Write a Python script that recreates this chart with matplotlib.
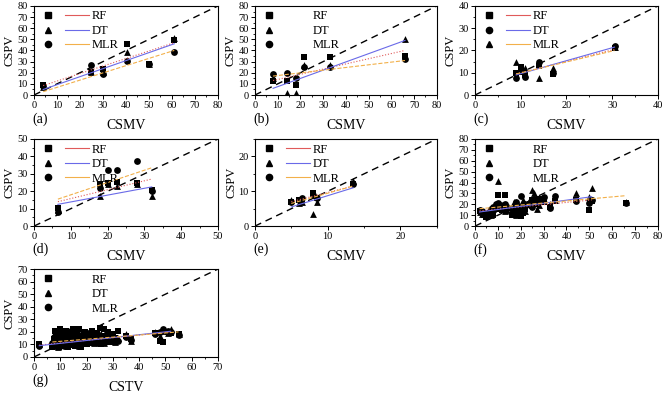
import matplotlib
matplotlib.use('Agg')
import matplotlib.pyplot as plt
import numpy as np
from matplotlib.lines import Line2D
from matplotlib.legend_handler import HandlerTuple
from matplotlib.ticker import MultipleLocator, AutoMinorLocator

plt.rcParams['font.family'] = ['Liberation Serif', 'DejaVu Serif']

models = ['RF', 'DT', 'MLR']

# panel (a)
a_x = [4, 25, 30, 40.5, 50, 61]
a_rf = [9, 21, 23, 46, 28, 49]
a_dt = [7, 21, 21, 39, 28, 51]
a_mlr = [8, 27, 19, 31, 28, 39]
a_fit = {'RF': (0.675, 5.8, 4, 61), 'DT': (0.72, 2.1, 4, 61), 'MLR': (0.65, 0.4, 4, 61)}

# panel (b)
b_x = [8, 14, 18, 21.5, 33, 66]
b_rf = [13, 13, 9, 34, 34, 35]
b_dt = [15, 2, 2, 27, 27, 50]
b_mlr = [19, 20, 15, 25, 25, 32]
b_fit = {'RF': (0.466, 9.3, 8, 66), 'DT': (0.741, 0.1, 8, 66), 'MLR': (0.241, 15.1, 8, 66)}

# panel (c)
c_x = [9, 10, 11, 14, 17, 30.5]
c_rf = [10, 12.5, 9, 13, 9.5, 21]
c_dt = [7.5, 11, 8, 15, 10, 22]
c_mlr = [15, 11, 12, 7.5, 12, 21.5]
c_fit = {'RF': (0.512, 4.9, 9, 30.5), 'DT': (0.581, 3.8, 9, 30.5), 'MLR': (0.488, 5.1, 9, 30.5)}

# panel (d)
d_x = [6.5, 18, 20, 22.5, 28, 32]
d_rf = [10.5, 24, 25, 25.5, 24.5, 21]
d_dt = [9, 17, 24, 23, 24, 17]
d_mlr = [8, 22, 32, 32, 37.5, 20]
d_fit = {'RF': (0.51, 10.7, 6.5, 32), 'DT': (0.392, 9.95, 6.5, 32), 'MLR': (0.706, 10.9, 6.5, 32)}

# panel (e)
e_x = [5, 6, 6.5, 8, 8.5, 13.5]
e_rf = [7, 7.5, 7.5, 9.5, 8, 12]
e_dt = [7.5, 6.5, 7, 3.5, 7, 13]
e_mlr = [7, 7.5, 8, 9, 8, 12]
e_fit = {'RF': (0.53, 4.35, 5, 13.5), 'DT': (0.647, 2.26, 5, 13.5), 'MLR': (0.588, 3.56, 5, 13.5)}

# panel (f)
f_x = [2, 3, 4, 5, 6, 7, 8, 9, 10, 11, 12, 13, 14, 16, 17, 18,
       19, 20, 21, 22, 24, 25, 26, 27, 28, 30, 33, 35, 44, 50, 51, 66]
f_rf = [14, 13, 10, 8, 11, 12, 10, 16, 29, 18, 15, 29, 17, 10, 13, 18,
        12, 9, 12, 16, 20, 24, 22, 20, 25, 22, 18, 23, 24, 15, 23, 21]
f_dt = [13, 11, 12, 9, 14, 10, 16, 20, 41, 17, 19, 14, 15, 12, 22, 10,
        20, 15, 24, 14, 21, 33, 30, 16, 19, 25, 20, 24, 30, 27, 35, 22]
f_mlr = [15, 14, 12, 10, 13, 16, 18, 20, 21, 19, 17, 20, 18, 16, 16, 22,
         17, 28, 18, 20, 19, 18, 25, 24, 23, 27, 17, 28, 23, 21, 24, 21.5]
f_fit = {'RF': (0.204, 13.6, 2, 51), 'DT': (0.286, 12.4, 2, 51), 'MLR': (0.1875, 15.6, 2, 66)}

# panel (g)
g_x = [2, 7, 7.5, 8, 8, 8.5, 9, 9, 9.5, 10,
       10, 10.5, 11, 11, 11.5, 12, 12, 12.5, 13, 13,
       13.5, 14, 14, 14.5, 15, 15.5, 16, 16.5, 17, 17,
       18, 18.5, 19, 19.5, 20, 21, 21.5, 22, 22.5, 23,
       24, 24.5, 25, 25.5, 26, 26.5, 27, 28, 29, 30,
       31, 32, 35, 37, 46, 48, 49, 51, 52, 55]
g_rf = [10, 8, 14, 21, 9, 17, 12, 20, 8, 15,
        22, 11, 19, 9, 16, 13, 21, 10, 18, 8,
        14, 20, 11, 17, 22, 9, 15, 19, 12, 22,
        8, 16, 13, 20, 10, 18, 14, 21, 11, 16,
        19, 13, 23, 10, 17, 22, 14, 20, 12, 18,
        15, 21, 17, 14, 19, 13, 12, 20, 19, 18]
g_dt = [10, 12, 9, 16, 19, 11, 14, 8, 18, 21,
        13, 17, 10, 20, 12, 15, 9, 19, 11, 16,
        21, 13, 18, 10, 15, 20, 12, 17, 9, 14,
        19, 11, 18, 15, 12, 17, 20, 13, 16, 11,
        14, 21, 12, 18, 15, 11, 19, 13, 16, 14,
        12, 15, 18, 13, 20, 17, 21, 19, 22, 18]
g_mlr = [9, 11, 16, 10, 13, 19, 10, 15, 12, 9,
         17, 14, 12, 18, 10, 16, 13, 11, 15, 19,
         12, 10, 16, 13, 11, 18, 14, 10, 17, 13,
         11, 15, 12, 17, 14, 12, 16, 13, 15, 12,
         14, 11, 17, 15, 13, 16, 12, 14, 17, 13,
         15, 13, 16, 13.5, 18, 20, 22, 21, 20, 17.5]
g_fit = {'RF': (0.21, 9.08, 2, 52), 'DT': (0.23, 8.54, 2, 52), 'MLR': (0.167, 10.8, 7, 55)}

tri_sq = {'RF': 's', 'DT': '^', 'MLR': 'o'}
c_markers = {'RF': 's', 'DT': 'o', 'MLR': '^'}

panels = [
    dict(tag='(a)', x=a_x, y={'RF': a_rf, 'DT': a_dt, 'MLR': a_mlr}, fit=a_fit,
         lim=80, step=10, xlabel='CSMV', mk=tri_sq, legline=True),
    dict(tag='(b)', x=b_x, y={'RF': b_rf, 'DT': b_dt, 'MLR': b_mlr}, fit=b_fit,
         lim=80, step=10, xlabel='CSMV', mk=tri_sq, legline=False),
    dict(tag='(c)', x=c_x, y={'RF': c_rf, 'DT': c_dt, 'MLR': c_mlr}, fit=c_fit,
         lim=40, step=10, xlabel='CSMV', mk=c_markers, legline=True),
    dict(tag='(d)', x=d_x, y={'RF': d_rf, 'DT': d_dt, 'MLR': d_mlr}, fit=d_fit,
         lim=50, step=10, xlabel='CSMV', mk=tri_sq, legline=True),
    dict(tag='(e)', x=e_x, y={'RF': e_rf, 'DT': e_dt, 'MLR': e_mlr}, fit=e_fit,
         lim=25, step=10, xlabel='CSMV', mk=tri_sq, legline=True),
    dict(tag='(f)', x=f_x, y={'RF': f_rf, 'DT': f_dt, 'MLR': f_mlr}, fit=f_fit,
         lim=80, step=10, xlabel='CSMV', mk=tri_sq, legline=False),
    dict(tag='(g)', x=g_x, y={'RF': g_rf, 'DT': g_dt, 'MLR': g_mlr}, fit=g_fit,
         lim=70, step=10, xlabel='CSTV', mk=tri_sq, legline=False),
]

line_colors = {'RF': '#e05a5a', 'DT': '#6a6ae8', 'MLR': '#f2b04a'}
line_styles = {'RF': ':', 'DT': '-', 'MLR': '--'}

# axes boxes in figure fractions: columns and rows
col_left = [0.0508, 0.381, 0.710]
col_width = [0.275, 0.272, 0.2735]
row_bottom = [0.760, 0.429, 0.0985]
row_height = [0.225, 0.220, 0.222]

fig = plt.figure(figsize=(6.69, 3.96), dpi=100)

for i, p in enumerate(panels):
    r, c = divmod(i, 3)
    ax = fig.add_axes([col_left[c], row_bottom[r], col_width[c], row_height[r]])
    lim = p['lim']
    ax.plot([0, lim], [0, lim], color='black', lw=1.0, dashes=(5, 3.5), zorder=1)

    handles = []
    for m in models:
        ax.scatter(p['x'], p['y'][m], marker=p['mk'][m], s=24, c='black',
                   linewidths=0, zorder=3)
        slope, icpt, x0, x1 = p['fit'][m]
        xs = np.array([x0, x1])
        ax.plot(xs, slope * xs + icpt, color=line_colors[m], ls=line_styles[m],
                lw=0.8, zorder=4)
        mh = Line2D([], [], marker=p['mk'][m], color='black', ls='none', markersize=4.5)
        lh = Line2D([], [], color=line_colors[m], lw=0.8,
                    alpha=1.0 if p['legline'] else 0.0)
        handles.append((mh, lh))

    ax.legend(handles, models, handler_map={tuple: HandlerTuple(ndivide=None, pad=0.4)},
              loc='upper left', bbox_to_anchor=(-0.02, 1.02), frameon=False,
              fontsize=9, handlelength=4.2, handletextpad=0.2, labelspacing=0.2,
              borderaxespad=0.1)

    ax.set_xlim(0, lim)
    ax.set_ylim(0, lim)
    ax.xaxis.set_major_locator(MultipleLocator(p['step']))
    ax.yaxis.set_major_locator(MultipleLocator(p['step']))
    ax.xaxis.set_minor_locator(AutoMinorLocator(2))
    ax.yaxis.set_minor_locator(AutoMinorLocator(2))
    ax.tick_params(which='major', direction='out', length=3, width=0.7, labelsize=7.5, pad=1.5)
    ax.tick_params(which='minor', direction='out', length=1.5, width=0.6)
    for s in ax.spines.values():
        s.set_linewidth(0.8)
    ax.set_xlabel(p['xlabel'], fontsize=10, labelpad=6)
    ax.set_ylabel('CSPV', fontsize=9, labelpad=1)
    ax.text(-0.01, -0.27, p['tag'], transform=ax.transAxes, fontsize=10,
            ha='left', va='center')

fig.savefig('out.png', dpi=100)
